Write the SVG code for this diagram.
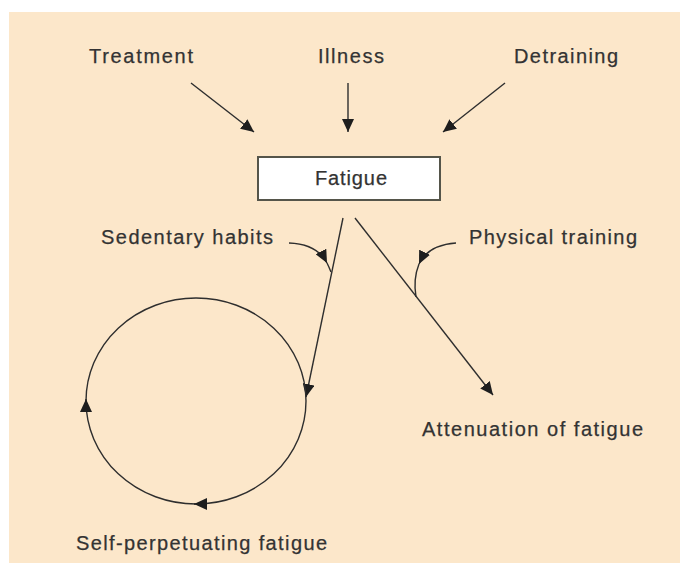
<svg xmlns="http://www.w3.org/2000/svg" width="680" height="563" viewBox="0 0 680 563">
<style>
.lbl{font-family:"Liberation Sans",Arial,sans-serif;font-size:20px;fill:#333333;stroke:#333333;stroke-width:0.25}
.ln{fill:none;stroke:#2e2e2e;stroke-width:1.4}
</style>
<defs>
<marker id="ah" markerUnits="userSpaceOnUse" markerWidth="14" markerHeight="12" viewBox="0 0 14 12" refX="13" refY="6" orient="auto">
<path d="M0,0 L13,6 L0,12 z" fill="#1e1e1e"/>
</marker>
</defs>
<rect x="0" y="0" width="680" height="563" fill="#ffffff"/>
<rect x="9" y="12" width="671" height="551" fill="#fce7ca"/>

<g id="treatment"><text class="lbl" x="89" y="63" textLength="104" lengthAdjust="spacing">Treatment</text></g>
<g id="illness"><text class="lbl" x="318" y="63" textLength="66" lengthAdjust="spacing">Illness</text></g>
<g id="detraining"><text class="lbl" x="514" y="63" textLength="104" lengthAdjust="spacing">Detraining</text></g>
<g id="fatigue">
<rect x="258" y="157" width="182" height="43" fill="#ffffff" stroke="#55554a" stroke-width="2"/>
<text class="lbl" x="315" y="185" textLength="72" lengthAdjust="spacing">Fatigue</text>
</g>
<g id="sedentary"><text class="lbl" x="101" y="244" textLength="172" lengthAdjust="spacing">Sedentary habits</text></g>
<g id="physical"><text class="lbl" x="469" y="244" textLength="168" lengthAdjust="spacing">Physical training</text></g>
<g id="attenuation"><text class="lbl" x="422" y="436" textLength="221" lengthAdjust="spacing">Attenuation of fatigue</text></g>
<g id="selfperp"><text class="lbl" x="76" y="550" textLength="251" lengthAdjust="spacing">Self-perpetuating fatigue</text></g>

<g id="connectors">
<line class="ln" x1="191" y1="83" x2="254" y2="132" marker-end="url(#ah)"/>
<line class="ln" x1="348" y1="83" x2="348" y2="132" marker-end="url(#ah)"/>
<line class="ln" x1="505" y1="83" x2="443" y2="132" marker-end="url(#ah)"/>
<line class="ln" x1="343" y1="218" x2="306" y2="397" marker-end="url(#ah)"/>
<line class="ln" x1="355" y1="218" x2="493" y2="395" marker-end="url(#ah)"/>
<ellipse class="ln" cx="196" cy="401" rx="110" ry="103"/>
<path class="ln" d="M195.5,504 L194,504" marker-end="url(#ah)"/>
<path class="ln" d="M86,401.5 L86,399" marker-end="url(#ah)"/>
<path class="ln" d="M289,243 Q317,244 327,263" marker-end="url(#ah)"/>
<path class="ln" d="M327,263 Q329,267 331,272"/>
<path class="ln" d="M456,243 Q428,245 419,264" marker-end="url(#ah)"/>
<path class="ln" d="M419,264 Q413,279 416,297"/>
</g>
</svg>
